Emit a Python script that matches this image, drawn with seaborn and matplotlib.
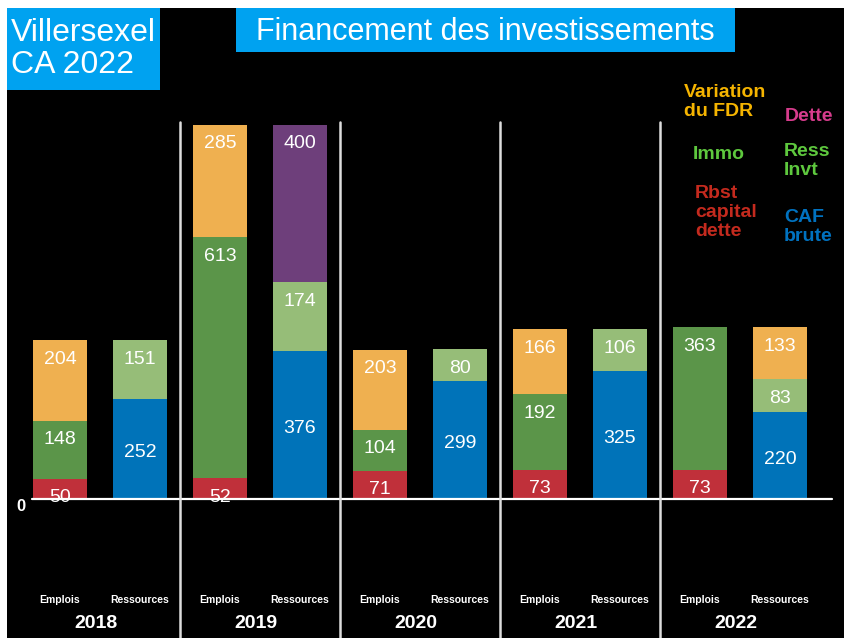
import matplotlib
matplotlib.use("Agg")
import matplotlib.pyplot as plt
import matplotlib.transforms as mtransforms
from matplotlib.patches import Rectangle
import numpy as np
import seaborn as sns

years = ["2018", "2019", "2020", "2021", "2022"]
sides = ["Emplois", "Ressources"]

# emplois
rbst_capital = [50, 52, 71, 73, 73]
immo = [148, 613, 104, 192, 363]
variation_fdr_emplois = [204, 285, 203, 166, 0]

# ressources
caf_brute = [252, 376, 299, 325, 220]
ress_invt = [151, 174, 80, 106, 83]
dette = [0, 400, 0, 0, 0]
variation_fdr_ressources = [0, 0, 0, 0, 133]

c_orange = "#EFB050"
c_immo = "#5B9549"
c_invt = "#96BD78"
c_caf = "#0073B9"
c_rbst = "#C0303A"
c_dette = "#6E3F7B"

sns.set_theme(style="white")
plt.rcParams["font.family"] = ["Liberation Sans", "DejaVu Sans"]

W, H = 845, 638
fig = plt.figure(figsize=(W / 100, H / 100), dpi=100, facecolor="white")
fig.patches.append(Rectangle((7 / W, 0), 1, (H - 8) / H, transform=fig.transFigure,
                             facecolor="black", edgecolor="none", zorder=-5))

# axes in pixel geometry: zero line at y=498.5, 0.3932 px per unit
px_unit = 0.3932
zero_px = 498.5
ax = fig.add_axes([20 / W, 0, 816 / W, (H - 60) / H])
ax.set_facecolor("none")

labels = [f"{y} {s}" for y in years for s in sides]
n = len(labels)


def spread(vals, side):
    # put one side's values on every other bar, zeros elsewhere
    out = np.zeros(n)
    out[side::2] = vals
    return out


# stacking order, bottom to top: (values, side, colour, centred label)
segments = [
    [(rbst_capital, 0, c_rbst, False), (caf_brute, 1, c_caf, True)],
    [(immo, 0, c_immo, False), (ress_invt, 1, c_invt, False)],
    [(variation_fdr_emplois, 0, c_orange, False), (dette, 1, c_dette, False)],
    [(variation_fdr_ressources, 1, c_orange, False)],
]

bottom = np.zeros(n)
offset = 19 / px_unit
nudge = 4 / px_unit
for layer in segments:
    layer_total = np.zeros(n)
    for vals, side, col, centred in layer:
        h = spread(vals, side)
        sns.barplot(x=labels, y=h, bottom=bottom, order=labels, color=col,
                    width=0.675, errorbar=None, saturation=1, linewidth=0, ax=ax)
        for i in range(side, n, 2):
            v = h[i]
            if v <= 0:
                continue
            ypos = bottom[i] + v / 2 - nudge if centred else bottom[i] + v - offset
            ax.text(i, ypos, f"{int(v)}", color="white", fontsize=14,
                    ha="center", va="center", zorder=5)
        layer_total += h
    bottom = bottom + layer_total

bot_units = -(H - zero_px) / px_unit
ax.set_xlim(-0.5, 9.7)
ax.set_ylim(bot_units, (zero_px - 60) / px_unit)
ax.axis("off")

# zero line and year separators
ax.plot([-0.35, 9.65], [0, 0], color="white", lw=1.6, zorder=4, clip_on=False)
for k in range(1, len(years)):
    ax.plot([2 * k - 0.5, 2 * k - 0.5], [bot_units, (zero_px - 122) / px_unit],
            color="#DDDDDD", lw=1.8, zorder=4, clip_on=False)
ax.text(-0.49, -8 / px_unit, "0", color="white", fontsize=12, fontweight="bold",
        ha="center", va="center")

trans = mtransforms.blended_transform_factory(ax.transData, fig.transFigure)
for k, y in enumerate(years):
    ax.text(2 * k, 1 - 600 / H, "Emplois", transform=trans, color="white",
            fontsize=7.5, fontweight="bold", ha="center", va="center")
    ax.text(2 * k + 1, 1 - 600 / H, "Ressources", transform=trans, color="white",
            fontsize=7.5, fontweight="bold", ha="center", va="center")
    ax.text(2 * k + 0.45, 1 - 624 / H, y, transform=trans, color="white",
            fontsize=14, fontweight="bold", ha="center", va="center")

# title boxes
fig.patches.append(Rectangle((7 / W, 1 - 90 / H), 153 / W, 82 / H, transform=fig.transFigure,
                             facecolor="#00A2F0", edgecolor="none", zorder=1))
fig.text(11 / W, 1 - 49 / H, "Villersexel\nCA 2022", color="white", fontsize=23,
         ha="left", va="center", linespacing=1.1, zorder=2)
fig.patches.append(Rectangle((236 / W, 1 - 52 / H), 499 / W, 44 / H, transform=fig.transFigure,
                             facecolor="#00A2F0", edgecolor="none", zorder=1))
fig.text(485 / W, 1 - 32 / H, "Financement des investissements", color="white",
         fontsize=22, ha="center", va="center", zorder=2)

# legend texts
legend_items = [
    ("Variation\ndu FDR", 684, 84, "#F5B400"),
    ("Dette", 785, 108, "#D63C8C"),
    ("Immo", 693, 146, "#5EC83E"),
    ("Ress\nInvt", 784, 143, "#5EC83E"),
    ("Rbst\ncapital\ndette", 695, 185, "#C42A1E"),
    ("CAF\nbrute", 784, 209, "#0072C0"),
]
for txt, x, y, col in legend_items:
    fig.text(x / W, 1 - y / H, txt, color=col, fontsize=14, fontweight="bold",
             ha="left", va="top", linespacing=1.15)

fig.savefig("out.png", dpi=100, facecolor="white")
